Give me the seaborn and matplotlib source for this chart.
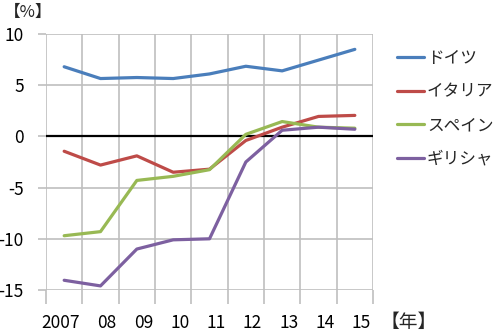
import matplotlib
matplotlib.use("Agg")
import matplotlib.pyplot as plt
import matplotlib.transforms as mtransforms
import numpy as np
import pandas as pd
import seaborn as sns

# Year labels and values (%) per country
years = ["2007", "08", "09", "10", "11", "12", "13", "14", "15"]
germany = [6.8, 5.65, 5.75, 5.65, 6.1, 6.85, 6.4, 7.45, 8.5]
italy = [-1.45, -2.8, -1.9, -3.5, -3.2, -0.4, 0.9, 1.95, 2.05]
spain = [-9.7, -9.3, -4.3, -3.9, -3.25, 0.2, 1.45, 0.9, 0.8]
greece = [-14.05, -14.6, -11.0, -10.1, -10.0, -2.5, 0.6, 0.9, 0.7]

countries = ["ドイツ", "イタリア", "スペイン", "ギリシャ"]
series = [germany, italy, spain, greece]
colors = ["#4A7EBB", "#BE4B48", "#98B954", "#7D60A0"]

rows = []
for name, vals in zip(countries, series):
    for i, v in enumerate(vals):
        rows.append({"pos": i, "year": years[i], "country": name, "value": v})
df = pd.DataFrame(rows)

sns.set_theme(style="white")
plt.rcParams["font.family"] = ["Noto Sans CJK JP", "DejaVu Sans"]

fig = plt.figure(figsize=(5.0, 3.32), dpi=100)
ax = fig.add_axes([0.092, 0.1265, 0.654, 0.7711])

grid_col = "#BFBFBF"

sns.lineplot(data=df, x="pos", y="value", hue="country", hue_order=countries,
             palette=colors, linewidth=2.3, ax=ax, legend=False, zorder=3)

ax.axhline(0, color="black", linewidth=1.6, zorder=2)

n = len(years)
ax.set_xlim(-0.5, n - 0.5)
ax.set_ylim(-15, 10)
ax.set_yticks([10, 5, 0, -5, -10, -15])
ax.set_yticklabels(["10", "5", "0", "-5", "-10", "-15"])

# category boundaries carry the grid and tick marks; each year label sits
# right-aligned against the boundary that closes its year
ax.set_xticks(np.arange(-0.5, n, 1.0))
ax.set_xticklabels([""] + years, ha="right")
ax.tick_params(axis="x", which="major", length=10, width=1.2, color=grid_col,
               direction="out", bottom=True, pad=7, labelsize=12.5,
               labelcolor="black")
ax.tick_params(axis="y", which="major", length=6, width=1.2, color=grid_col,
               direction="out", left=True, pad=10, labelsize=12.5,
               labelcolor="black")
shift = mtransforms.ScaledTranslation(-2 / 100, 0, fig.dpi_scale_trans)
for lab in ax.get_xticklabels():
    lab.set_transform(lab.get_transform() + shift)

ax.grid(True, which="major", color=grid_col, linewidth=1.2)
for s in ax.spines.values():
    s.set_visible(False)
ax.set_xlabel("")
ax.set_ylabel("")

fig.text(0.008, 0.962, "【%】", fontsize=12, ha="left", va="center")
fig.text(0.762, 0.030, "【年】", fontsize=13.5, ha="left", va="center")

handles = [plt.Line2D([], [], color=c, linewidth=2.3) for c in colors]
fig.legend(handles, countries, loc="upper left", bbox_to_anchor=(0.794, 0.85),
           frameon=False, fontsize=12, handlelength=1.6, handletextpad=0.2,
           labelspacing=1.0, borderaxespad=0, borderpad=0)

fig.savefig("out.png", dpi=100)
